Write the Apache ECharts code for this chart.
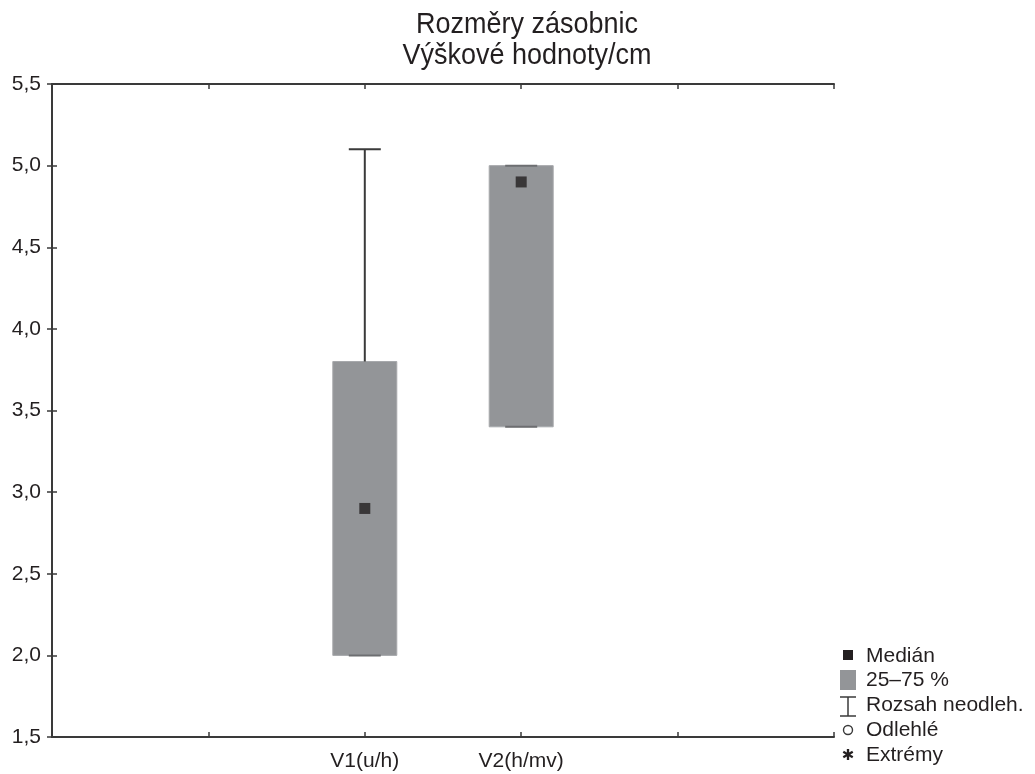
<!DOCTYPE html>
<html><head><meta charset="utf-8">
<script src="https://cdn.jsdelivr.net/npm/echarts@6/dist/echarts.min.js"></script>
<style>html,body{margin:0;padding:0;background:#fff}#c{width:1035px;height:774px}</style>
</head><body><div id="c"></div>
<script>
const titleLines = ['Rozměry zásobnic', 'Výškové hodnoty/cm'];
const tickLabels = ['', '', 'V1(u/h)', 'V2(h/mv)', '', ''];
const categories = ['V1(u/h)', 'V2(h/mv)'];
const medians = [2.9, 4.9];
const q1 = [2.0, 3.4];
const q3 = [3.8, 5.0];
const whiskLo = [2.0, 3.4];
const whiskHi = [5.1, 5.0];
const yMin = 1.5, yMax = 5.5, yStep = 0.5;
const legendLabels = ['Medián', '25–75 %', 'Rozsah neodleh.', 'Odlehlé', 'Extrémy'];

const font = 'Liberation Sans, Arial, sans-serif';
const axisCol = '#3a3a3a';
const boxCol = '#939598';
const medCol = '#231f20';
const textCol = '#231f20';

const boxData = categories.map((c, i) => [tickLabels.indexOf(c), q1[i], q3[i], whiskLo[i], whiskHi[i]]);
const medData = categories.map((c, i) => [tickLabels.indexOf(c), medians[i]]);

const chart = echarts.init(document.getElementById('c'));
const axisCommon = {
  axisLine: {lineStyle: {color: axisCol, width: 2}},
  axisTick: {inside: true, length: 5, lineStyle: {color: axisCol, width: 1.5}},
  splitLine: {show: false}
};
const lx = 848, tx = 866;
const legendY = [656, 680, 705, 730, 755];
chart.setOption({
  animation: false,
  grid: {left: 52, right: 201, top: 84, bottom: 37},
  xAxis: [
    Object.assign({type: 'value', min: 0, max: tickLabels.length - 1, interval: 1, position: 'bottom',
      axisLabel: {formatter: v => tickLabels[v] || '', fontFamily: font, fontSize: 21, color: textCol, margin: 14}}, axisCommon),
    Object.assign({type: 'value', min: 0, max: tickLabels.length - 1, interval: 1, position: 'top',
      axisLabel: {show: false}}, axisCommon)
  ],
  yAxis: [
    Object.assign({type: 'value', min: yMin, max: yMax, interval: yStep, position: 'left',
      axisLabel: {formatter: v => v.toFixed(1).replace('.', ','), fontFamily: font, fontSize: 21, color: textCol, margin: 11}}, axisCommon),
    Object.assign({type: 'value', min: yMin, max: yMax, interval: yStep, position: 'right',
      axisLabel: {show: false}}, axisCommon)
  ],
  series: [
    {
      type: 'custom',
      data: boxData,
      renderItem: function (params, api) {
        const x = api.value(0);
        const pQ1 = api.coord([x, api.value(1)]);
        const pQ3 = api.coord([x, api.value(2)]);
        const pLo = api.coord([x, api.value(3)]);
        const pHi = api.coord([x, api.value(4)]);
        const hw = 32, cw = 16;
        const ls = {stroke: axisCol, lineWidth: 2};
        return {
          type: 'group',
          children: [
            {type: 'rect', shape: {x: pQ3[0] - hw, y: pQ3[1], width: 2 * hw, height: pQ1[1] - pQ3[1]},
              style: {fill: boxCol, stroke: '#a7a9ac', lineWidth: 1}},
            {type: 'line', shape: {x1: pHi[0], y1: pHi[1], x2: pQ3[0], y2: pQ3[1]}, style: ls},
            {type: 'line', shape: {x1: pLo[0], y1: pLo[1], x2: pQ1[0], y2: pQ1[1]}, style: ls},
            {type: 'line', shape: {x1: pHi[0] - cw, y1: pHi[1], x2: pHi[0] + cw, y2: pHi[1]}, style: {stroke: pHi[1] < pQ3[1] - 1 ? axisCol : '#6d6e71', lineWidth: 2}},
            {type: 'line', shape: {x1: pLo[0] - cw, y1: pLo[1], x2: pLo[0] + cw, y2: pLo[1]}, style: {stroke: '#6d6e71', lineWidth: 2}}
          ]
        };
      }
    },
    {
      type: 'scatter', data: medData, symbol: 'rect', symbolSize: 11,
      itemStyle: {color: medCol}, z: 5
    }
  ],
  graphic: [
    {type: 'text', x: 527, y: 24.5, scaleY: 1.08, style: {text: titleLines[0], align: 'center', verticalAlign: 'middle', font: '27px ' + font, fill: textCol}},
    {type: 'text', x: 527, y: 55.5, scaleY: 1.08, style: {text: titleLines[1], align: 'center', verticalAlign: 'middle', font: '27px ' + font, fill: textCol}},
    {type: 'rect', shape: {x: lx - 5, y: 650, width: 10, height: 10}, style: {fill: medCol}},
    {type: 'rect', shape: {x: lx - 8, y: 670, width: 16, height: 20}, style: {fill: boxCol}},
    {type: 'line', shape: {x1: lx - 8, y1: 697, x2: lx + 8, y2: 697}, style: {stroke: axisCol, lineWidth: 1.5}},
    {type: 'line', shape: {x1: lx, y1: 697, x2: lx, y2: 716}, style: {stroke: axisCol, lineWidth: 1.5}},
    {type: 'line', shape: {x1: lx - 8, y1: 716, x2: lx + 8, y2: 716}, style: {stroke: axisCol, lineWidth: 1.5}},
    {type: 'circle', shape: {cx: lx, cy: 730, r: 4.5}, style: {fill: '#fff', stroke: axisCol, lineWidth: 1.4}},
    {type: 'text', style: {text: '✱', x: lx, y: 756, align: 'center', verticalAlign: 'middle', font: '15px DejaVu Sans', fill: textCol}},
    ...legendLabels.map((t, i) => ({type: 'text', style: {text: t, x: tx, y: legendY[i], verticalAlign: 'middle', font: '21px ' + font, fill: textCol}}))
  ]
});
</script></body></html>
